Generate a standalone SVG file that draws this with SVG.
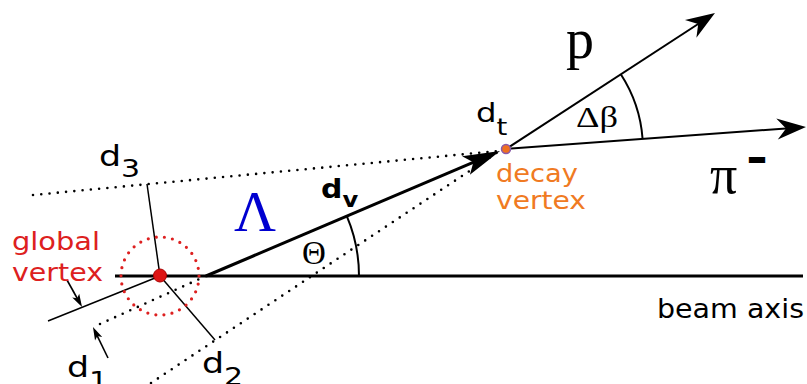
<svg xmlns="http://www.w3.org/2000/svg" width="807" height="384" viewBox="0 0 807 384">
<style>
.ln{stroke:#000;fill:none;stroke-linecap:butt}
.dot{stroke:#000;fill:none;stroke-width:2.6;stroke-linecap:round;stroke-dasharray:0 8.3}
.sans{font-family:"DejaVu Sans","Liberation Sans",sans-serif}
.serif{font-family:"Liberation Serif","DejaVu Serif",serif}
.red{fill:#dd2020}
.orange{fill:#f07a22}
</style>
<defs>
<marker id="arrBig" markerUnits="userSpaceOnUse" viewBox="-26 -11 39 22" refX="0" refY="0" markerWidth="39" markerHeight="22" orient="auto" overflow="visible">
<path d="M12,0 L-25,-10 L-17,0 L-25,10 Z" fill="#000"/>
</marker>
<marker id="arrMid" markerUnits="userSpaceOnUse" viewBox="-20 -11 31 22" refX="0" refY="0" markerWidth="31" markerHeight="22" orient="auto" overflow="visible">
<path d="M10,0 L-19,-10.5 L-10,0 L-19,10.5 Z" fill="#000"/>
</marker>
<marker id="arrSm" markerUnits="userSpaceOnUse" viewBox="-10 -5 15 10" refX="0" refY="0" markerWidth="15" markerHeight="10" orient="auto" overflow="visible">
<path d="M4,0 L-9,-4 L-6,0 L-9,4 Z" fill="#000"/>
</marker>
</defs>
<rect width="807" height="384" fill="#fff"/>

<g id="connectors">
<line class="dot" x1="33" y1="195" x2="498" y2="151"/>
<line class="dot" x1="151" y1="383" x2="498" y2="152"/>
<line class="dot" x1="100" y1="324" x2="206" y2="276"/>
<line class="ln" x1="115" y1="276" x2="803" y2="276" stroke-width="3"/>
<line class="ln" x1="147" y1="184" x2="160" y2="276" stroke-width="1.5"/>
<line class="ln" x1="160" y1="276" x2="215" y2="340" stroke-width="1.5"/>
<line class="ln" x1="48" y1="321" x2="160" y2="276" stroke-width="1.5"/>
<line class="ln" x1="67" y1="280" x2="80.1" y2="303.5" stroke-width="1.6" marker-end="url(#arrSm)"/>
<line class="ln" x1="108" y1="358" x2="94.7" y2="330.6" stroke-width="1.6" marker-end="url(#arrSm)"/>
<line class="ln" x1="206" y1="276" x2="489" y2="155.7" stroke-width="3" marker-end="url(#arrBig)"/>
<line class="ln" x1="506" y1="149" x2="706.6" y2="18.5" stroke-width="2" marker-end="url(#arrMid)"/>
<line class="ln" x1="506" y1="149" x2="796" y2="127.7" stroke-width="2" marker-end="url(#arrMid)"/>
<path class="ln" d="M346.8,216.1 A153,153 0 0 1 359,276" stroke-width="2"/>
<path class="ln" d="M620.8,74.3 A137,137 0 0 1 642.6,139" stroke-width="2"/>
</g>

<g id="global-vertex">
<circle cx="160" cy="276" r="39" fill="none" stroke="#dd2020" stroke-width="3.2" stroke-linecap="round" stroke-dasharray="0 8.17"/>
<circle cx="160" cy="275.5" r="6.5" fill="#dd1515" stroke="#a00" stroke-width="1"/>
<text class="sans red" x="12" y="250" font-size="25" textLength="88" lengthAdjust="spacingAndGlyphs">global</text>
<text class="sans red" x="12" y="281" font-size="25" textLength="91" lengthAdjust="spacingAndGlyphs">vertex</text>
</g>

<g id="decay-vertex">
<circle cx="506" cy="149" r="4.5" fill="#f07020" stroke="#8a5aa8" stroke-width="1.5"/>
<text class="sans orange" x="496" y="182" font-size="25" textLength="82" lengthAdjust="spacingAndGlyphs">decay</text>
<text class="sans orange" x="496" y="209" font-size="25" textLength="90" lengthAdjust="spacingAndGlyphs">vertex</text>
</g>

<g id="labels">
<text class="sans" transform="translate(99,166) scale(1.2,1)" font-size="29">d<tspan font-size="25" dy="11">3</tspan></text>
<text class="sans" transform="translate(67,377) scale(1.2,1)" font-size="29">d<tspan font-size="25" dy="12">1</tspan></text>
<text class="sans" transform="translate(202,373) scale(1.2,1)" font-size="29">d<tspan font-size="25" dy="12">2</tspan></text>
<text class="sans" transform="translate(476,122) scale(1.2,1)" font-size="27">d<tspan font-size="23" dy="13">t</tspan></text>
<text class="sans" transform="translate(321,198) scale(1.15,1)" font-size="26" font-weight="bold">d<tspan font-size="21" dy="9">v</tspan></text>
<text class="serif" x="234" y="231" font-size="58" fill="#0000d0">Λ</text>
<text class="serif" x="302" y="264" font-size="33">Θ</text>
<text class="serif" x="566" y="58" font-size="56">p</text>
<text class="serif" x="576" y="127" font-size="29" textLength="42" lengthAdjust="spacingAndGlyphs">Δβ</text>
<text class="serif" x="710" y="193" font-size="54">π<tspan x="746" y="172" font-family="DejaVu Sans" font-weight="bold" font-size="42" textLength="22" lengthAdjust="spacingAndGlyphs">-</tspan></text>
<text class="sans" x="657" y="318" font-size="26" textLength="147" lengthAdjust="spacingAndGlyphs">beam axis</text>
</g>
</svg>
